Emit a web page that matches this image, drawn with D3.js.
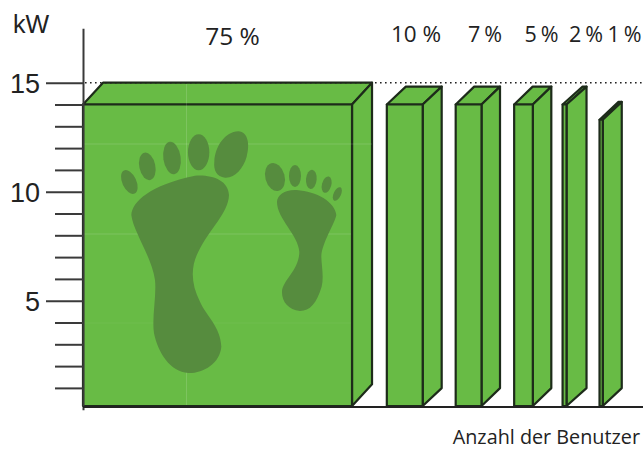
<!DOCTYPE html>
<html><head><meta charset="utf-8">
<script src="https://cdn.jsdelivr.net/npm/d3@7/dist/d3.min.js"></script>
<style>html,body{margin:0;padding:0;background:#fff;overflow:hidden}svg{display:block}</style>
</head><body><svg id="c" width="643" height="450"></svg>
<script>
const shareLabels = ["75 %","10 %","7 %","5 %","2 %","1 %"];
const kwValues    = [14, 14, 14, 14, 14, 13.3];
const barStarts   = [0, 84.7, 103.9, 120.2, 133.7, 144];
const barWidths   = [75, 10, 7.2, 5.2, 1.1, 0.9];
const depthX      = [20, 19, 18.5, 18.5, 20, 19];
const depthKw     = [1, 0.82, 0.82, 0.82, 0.82, 0.82];
const labelX      = [232.5, 416, 485, 541.5, 586, 624.5];
const labelY      = [45, 42, 42, 42, 42, 42];
const labelSize   = [24.5, 22.5, 21.5, 21.5, 21.5, 21.5];
const minorTicks  = [1,2,3,4,6,7,8,9,11,12,13,14];
const majorTicks  = [5,10,15];

const GREEN="#68bb45", DARK="#1d2b1a", FOOT="#568c3e";
const svg=d3.select("#c");
const x=d3.scaleLinear().domain([0,100]).range([83,441.7]);
const y=d3.scaleLinear().domain([0,17.5]).range([409.7,28.2]);
const base=406;
const bars=shareLabels.map((s,i)=>({s,v:kwValues[i],x0:x(barStarts[i]),x1:x(barStarts[i]+barWidths[i]),dx:depthX[i],dy:depthKw[i]*(y(0)-y(1))}));

const g=svg.append("g");
const poly=b=>[
  [[b.x0,y(b.v)],[b.x0+b.dx,y(b.v)-b.dy],[b.x1+b.dx,y(b.v)-b.dy],[b.x1,y(b.v)]],
  [[b.x1,y(b.v)],[b.x1+b.dx,y(b.v)-b.dy],[b.x1+b.dx,base-b.dy],[b.x1,base]],
  [[b.x0,y(b.v)],[b.x1,y(b.v)],[b.x1,base],[b.x0,base]]
];
const line=d3.line().curve(d3.curveLinearClosed);
bars.forEach(b=>poly(b).forEach(p=>g.append("path").attr("d",line(p)).attr("fill",GREEN)
  .attr("stroke",DARK).attr("stroke-width",2.2).attr("stroke-linejoin","round")));

// faint seam lines across the big block
[[186.5,84,186.5,405],[84,144,372,144],[84,234,351,234],[84,323,351,323]].forEach((l,i)=>
  g.append("line").attr("x1",l[0]).attr("y1",l[1]).attr("x2",l[2]).attr("y2",l[3])
   .attr("stroke","#fff").attr("stroke-opacity",i==3?0.05:0.14).attr("stroke-width",1));

// footprints
const f=svg.append("g").attr("transform","translate(100,120) scale(0.3333)").attr("fill",FOOT);
["M94,285 C96,245 150,195 285,167 C335,163 385,180 387,225 C385,280 330,325 295,395 C272,440 272,490 300,545 C320,590 362,620 364,680 C360,730 310,760 265,759 C210,755 175,700 162,640 C155,590 170,530 165,480 C155,410 100,335 94,285 Z",
 "M343,125 C345,80 375,35 415,34 C445,35 450,75 440,110 C430,145 405,175 375,173 C350,170 340,150 343,125Z",
 "M531,245 C532,225 555,208 590,210 C650,215 705,245 709,285 C705,310 665,370 664,410 C665,440 672,470 665,500 C650,550 630,572 600,573 C565,570 545,545 546,515 C548,480 598,450 598,395 C595,345 530,295 531,245Z"
].forEach(d=>f.append("path").attr("d",d));
[[296,97,32,54,0],[216,114,26,49,-8],[142,139,24,42,-12],[88,186,21,38,-25],
 [525,171,29,43,-15],[585,168,18,33,0],[634,178,16,29,5],[680,194,14,25,15],[712,222,11,22,25]
].forEach(e=>f.append("ellipse").attr("rx",e[2]).attr("ry",e[3])
  .attr("transform",`translate(${e[0]},${e[1]}) rotate(${e[4]})`));

// dotted reference line
svg.append("line").attr("x1",85).attr("x2",643).attr("y1",y(15)).attr("y2",y(15))
  .attr("stroke","#222").attr("stroke-width",1.6).attr("stroke-dasharray","1.6 3.4");

// axes
const AX="#3a3a3a";
const major=svg.append("g").attr("transform","translate(83,0)")
  .call(d3.axisLeft(y).tickValues(majorTicks).tickSize(37).tickSizeOuter(0).tickPadding(6).tickFormat(d3.format("d")));
major.select(".domain").attr("stroke",AX).attr("stroke-width",2);
major.selectAll(".tick line").attr("stroke",AX).attr("stroke-width",2);
major.selectAll(".tick text").attr("fill","#222").attr("dy","0.36em").style("font","27px 'Liberation Sans',sans-serif");
const minor=svg.append("g").attr("transform","translate(83,0)")
  .call(d3.axisLeft(y).tickValues(minorTicks).tickSize(28).tickFormat(""));
minor.select(".domain").remove();
minor.selectAll(".tick line").attr("stroke",AX).attr("stroke-width",2);
svg.append("line").attr("x1",83).attr("x2",643).attr("y1",407).attr("y2",407).attr("stroke","#222").attr("stroke-width",2);

// text
svg.append("text").attr("x",13).attr("y",33).attr("fill","#222").style("font","25px 'Liberation Sans',sans-serif").text("kW");
svg.selectAll(".pct").data(shareLabels).join("text").attr("class","pct")
  .attr("x",(d,i)=>labelX[i]).attr("y",(d,i)=>labelY[i]).attr("text-anchor","middle")
  .attr("fill","#222").attr("word-spacing",(d,i)=>i>1?-1.5:0)
  .style("font",(d,i)=>labelSize[i]+"px 'Open Sans',sans-serif").text(d=>d);
svg.append("text").attr("x",640).attr("y",444).attr("text-anchor","end").attr("fill","#222")
  .style("font","19.8px 'Open Sans',sans-serif").text("Anzahl der Benutzer");
</script></body></html>
